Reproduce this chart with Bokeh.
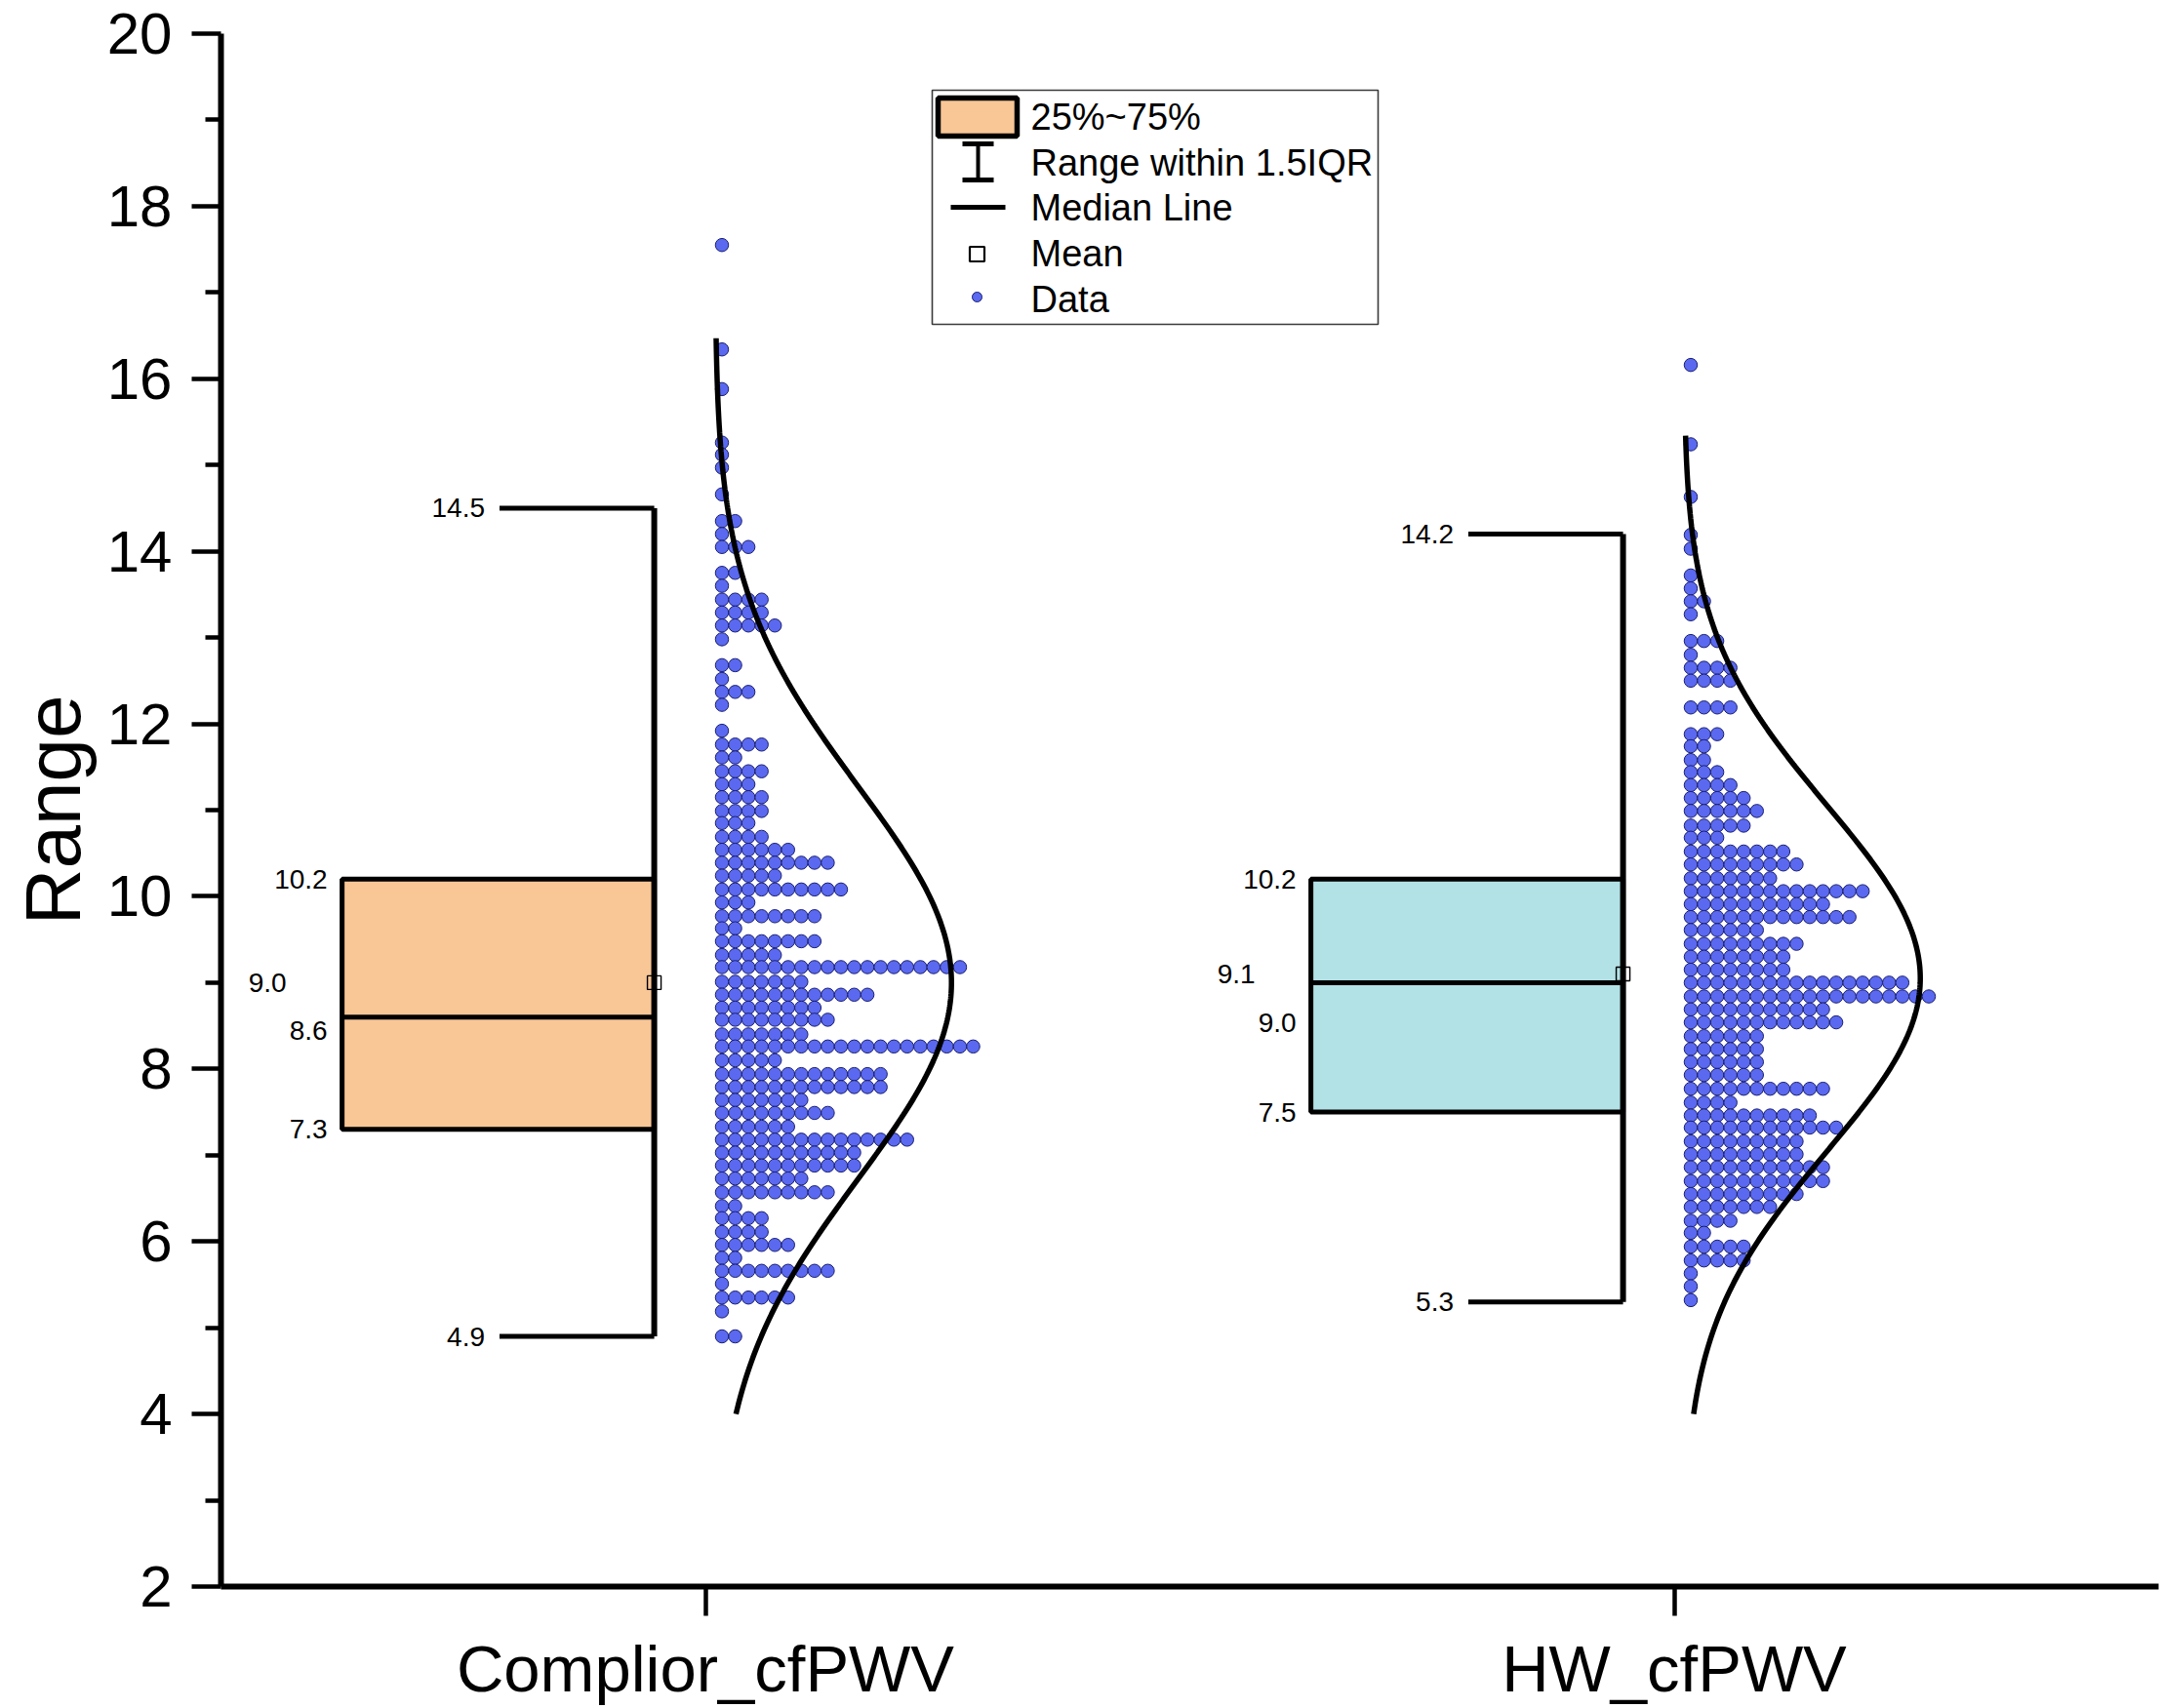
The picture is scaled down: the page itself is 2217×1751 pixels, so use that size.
import numpy as np
from bokeh.plotting import figure
from bokeh.models import FixedTicker, Range1d
from bokeh.core.properties import value
from bokeh.embed import file_html
from bokeh.resources import INLINE

# ---------------- data ----------------
categories = ["Complior_cfPWV", "HW_cfPWV"]
box_q1 = [7.3, 7.5]
box_median = [8.6, 9.0]
box_q3 = [10.2, 10.2]
box_mean = [9.0, 9.1]
whisker_low = [4.9, 5.3]
whisker_high = [14.5, 14.2]

complior_bins = [17.55, 16.34, 15.88, 15.26, 15.12, 14.97, 14.66, 14.35, 14.20, 14.05,
                 13.75, 13.60, 13.44, 13.29, 13.14, 12.98, 12.68, 12.52, 12.37, 12.22,
                 11.92, 11.76, 11.61, 11.45, 11.30, 11.15, 10.99, 10.85, 10.69, 10.54,
                 10.39, 10.24, 10.08, 9.93, 9.77, 9.63, 9.48, 9.32, 9.18, 9.01,
                 8.86, 8.71, 8.57, 8.40, 8.26, 8.10, 7.94, 7.79, 7.64, 7.49,
                 7.33, 7.18, 7.03, 6.88, 6.73, 6.57, 6.41, 6.27, 6.11, 5.96,
                 5.81, 5.66, 5.51, 5.35, 5.19, 4.90]
complior_counts = [1, 1, 1, 1, 1, 1, 1, 2, 1, 3,
                   2, 1, 4, 4, 5, 1, 2, 1, 3, 1,
                   1, 4, 2, 4, 3, 4, 4, 3, 4, 6,
                   9, 5, 10, 3, 8, 2, 8, 5, 19, 7,
                   12, 8, 9, 7, 20, 5, 13, 13, 7, 9,
                   6, 15, 11, 11, 7, 9, 2, 4, 4, 6,
                   2, 9, 1, 6, 1, 2]

hw_bins = [16.16, 15.24, 14.63, 14.19, 14.03, 13.72, 13.57, 13.42, 13.27, 12.96,
           12.80, 12.65, 12.50, 12.19, 11.88, 11.74, 11.58, 11.44, 11.29, 11.14,
           10.99, 10.82, 10.68, 10.52, 10.37, 10.21, 10.06, 9.91, 9.76, 9.61,
           9.45, 9.30, 9.15, 9.00, 8.84, 8.69, 8.54, 8.38, 8.23, 8.08,
           7.93, 7.77, 7.61, 7.46, 7.32, 7.16, 7.01, 6.86, 6.70, 6.55,
           6.40, 6.24, 6.10, 5.94, 5.78, 5.63, 5.48, 5.32]
hw_counts = [1, 1, 1, 1, 1, 1, 1, 2, 1, 3,
             1, 4, 4, 4, 3, 2, 2, 3, 4, 5,
             6, 5, 3, 8, 9, 7, 14, 11, 13, 6,
             9, 8, 8, 17, 19, 11, 12, 6, 6, 6,
             6, 11, 4, 10, 12, 9, 9, 11, 11, 9,
             7, 4, 2, 5, 5, 1, 1, 1]

curve_mean = [9.0, 9.05]
curve_sd = [2.27, 2.0]
curve_low = [4.0, 4.0]
curve_high = [16.47, 15.34]

y_ticks = [2, 4, 6, 8, 10, 12, 14, 16, 18, 20]

# ---------------- styles / layout ----------------
box_fill = ["#F9C696", "#B2E2E6"]
dot_fill = "#5A69F0"
dot_line = "#1B1F6E"
FONT = "Liberation Sans"

W, H = 2217, 1751
BL, BR, BT, BB = 226, 5, 34, 125
X0, X1, Y0, Y1 = 0.5, 2.5, 2.0, 20.0

BOX_L, BOX_R, CAP_L = -0.375, -0.0528, -0.2125
DOT_START, DOT_STEP = 0.0171, 0.01365
CURVE_BASE, CURVE_AMP = 0.010, 0.244

p = figure(width=W, height=H, x_range=Range1d(X0, X1), y_range=Range1d(Y0, Y1),
           output_backend="svg", toolbar_location=None,
           min_border_left=BL, min_border_right=BR, min_border_top=BT, min_border_bottom=BB)
p.grid.visible = False
p.outline_line_color = None
p.background_fill_color = "white"

# axes
p.yaxis.ticker = FixedTicker(ticks=y_ticks, minor_ticks=[t + 1 for t in y_ticks[:-1]])
p.xaxis.ticker = FixedTicker(ticks=[1, 2], minor_ticks=[])
p.xaxis.major_label_overrides = {1: categories[0], 2: categories[1]}
for ax in (p.xaxis[0], p.yaxis[0]):
    ax.axis_line_width = 6
    ax.axis_line_color = "black"
    ax.major_tick_line_width = 4.5
    ax.minor_tick_line_width = 4.5
    ax.major_tick_in = 0
    ax.minor_tick_in = 0
    ax.major_tick_out = 30
    ax.minor_tick_out = 16
    ax.major_label_text_font = FONT
    ax.major_label_text_color = "black"
p.yaxis.major_label_text_font_size = "60px"
p.yaxis.major_label_standoff = 20
p.yaxis.axis_label = "Range"
p.yaxis.axis_label_text_font = FONT
p.yaxis.axis_label_text_font_size = "80px"
p.yaxis.axis_label_text_font_style = "normal"
p.yaxis.axis_label_text_color = "black"
p.yaxis.axis_label_standoff = 8
p.xaxis.major_label_text_font_size = "67px"
p.xaxis.major_label_standoff = 16

# ---------------- boxes ----------------
cx = [i + 1 for i in range(len(categories))]
p.quad(left=[c + BOX_L for c in cx], right=[c + BOX_R for c in cx],
       bottom=box_q1, top=box_q3, fill_color=box_fill, line_color="black", line_width=5)
p.segment(x0=[c + BOX_L for c in cx], x1=[c + BOX_R for c in cx], y0=box_median, y1=box_median,
          line_color="black", line_width=5)
p.segment(x0=[c + BOX_R for c in cx], x1=[c + BOX_R for c in cx], y0=whisker_low, y1=whisker_high,
          line_color="black", line_width=6)
p.segment(x0=[c + CAP_L for c in cx] * 2, x1=[c + BOX_R for c in cx] * 2,
          y0=whisker_low + whisker_high, y1=whisker_low + whisker_high,
          line_color="black", line_width=5)
p.scatter(x=[c + BOX_R for c in cx], y=box_mean, marker="square", size=14,
          fill_alpha=0, line_color="black", line_width=1.4)

# value labels
lab_font = "28px"
def add_labels(xs, ys, texts, xoff):
    p.text(x=xs, y=ys, text=texts, x_offset=xoff, text_align="right", text_baseline="middle",
           text_font=value(FONT), text_font_size=lab_font, text_color="black")

add_labels([c + CAP_L for c in cx] * 2, whisker_high + whisker_low,
           [f"{v:.1f}" for v in whisker_high + whisker_low], -15)
add_labels([c + BOX_L for c in cx] * 2, box_q3 + box_q1,
           [f"{v:.1f}" for v in box_q3 + box_q1], -15)
med_lab_y = [min(m, mu - 0.56) for m, mu in zip(box_median, box_mean)]
add_labels([c + BOX_L for c in cx], med_lab_y, [f"{v:.1f}" for v in box_median], -15)
add_labels([c + BOX_L for c in cx], box_mean, [f"{v:.1f}" for v in box_mean], -57)

# ---------------- dots ----------------
dx, dy = [], []
for c, bins, counts in ((1, complior_bins, complior_counts), (2, hw_bins, hw_counts)):
    for b, n in zip(bins, counts):
        for k in range(n):
            dx.append(c + DOT_START + k * DOT_STEP)
            dy.append(b)
p.scatter(x=dx, y=dy, size=13.5, fill_color=dot_fill, line_color=dot_line, line_width=1)

# ---------------- normal curves ----------------
for c, mu, sd, lo, hi in zip(cx, curve_mean, curve_sd, curve_low, curve_high):
    ys = np.linspace(lo, hi, 400)
    xs = c + CURVE_BASE + CURVE_AMP * np.exp(-0.5 * ((ys - mu) / sd) ** 2)
    p.line(xs, ys, line_color="black", line_width=5.5)

# ---------------- legend (drawn) ----------------
FW = W - BL - BR
FH = H - BT - BB
def fx(px):
    return X0 + (px - BL) / FW * (X1 - X0)
def fy(py):
    return Y1 - (py - BT) / FH * (Y1 - Y0)

p.quad(left=[fx(955)], right=[fx(1412)], top=[fy(92)], bottom=[fy(332)],
       fill_color="white", line_color="#3a3a3a", line_width=1.6)
p.quad(left=[fx(961)], right=[fx(1042)], top=[fy(100)], bottom=[fy(139)],
       fill_color=box_fill[0], line_color="black", line_width=5.5)
p.segment(x0=[fx(1002)], x1=[fx(1002)], y0=[fy(147)], y1=[fy(184)], line_color="black", line_width=4)
p.segment(x0=[fx(986), fx(986)], x1=[fx(1018), fx(1018)], y0=[fy(147), fy(184)], y1=[fy(147), fy(184)],
          line_color="black", line_width=5)
p.segment(x0=[fx(974)], x1=[fx(1030)], y0=[fy(212)], y1=[fy(212)], line_color="black", line_width=5)
p.scatter(x=[fx(1001)], y=[fy(260)], marker="square", size=15, fill_alpha=0,
          line_color="black", line_width=2.2)
p.scatter(x=[fx(1001)], y=[fy(304)], size=10, fill_color=dot_fill, line_color=dot_line, line_width=1)
legend_texts = ["25%~75%", "Range within 1.5IQR", "Median Line", "Mean", "Data"]
legend_py = [119, 166, 212, 259, 306]
p.text(x=[fx(1056)] * 5, y=[fy(v) for v in legend_py], text=legend_texts,
       text_align="left", text_baseline="middle", text_font=value(FONT),
       text_font_size="38px", text_color="black")

open("out.html", "w").write(file_html(p, INLINE, title="Range"))
